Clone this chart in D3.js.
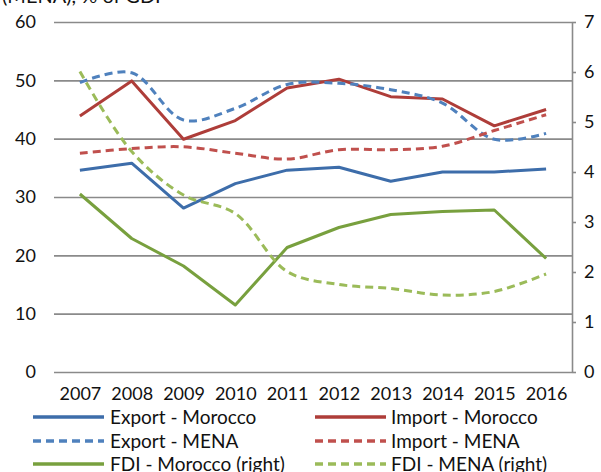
<!DOCTYPE html>
<html>
<head>
<meta charset="utf-8">
<script src="https://cdn.jsdelivr.net/npm/d3@7"></script>
<style>
  html, body { margin: 0; padding: 0; background: #fff; }
  svg { display: block; }
  text { font-family: "Century Gothic", Lato, "DejaVu Sans", sans-serif; fill: #111; }
</style>
</head>
<body>
<svg id="chart" width="601" height="472"></svg>
<script>
const years = ["2007","2008","2009","2010","2011","2012","2013","2014","2015","2016"];
const exportMorocco = [34.6, 35.8, 28.1, 32.3, 34.6, 35.1, 32.7, 34.3, 34.3, 34.8];
const importMorocco = [43.9, 49.9, 39.9, 43.1, 48.7, 50.2, 47.2, 46.8, 42.2, 45.0];
const exportMENA    = [49.6, 51.3, 43.2, 45.2, 49.3, 49.5, 48.4, 46.1, 39.9, 40.9];
const importMENA    = [37.5, 38.3, 38.6, 37.5, 36.5, 38.1, 38.1, 38.7, 41.4, 44.1];
const fdiMorocco    = [3.56, 2.67, 2.12, 1.34, 2.49, 2.89, 3.15, 3.21, 3.24, 2.27];
const fdiMENA       = [6.01, 4.41, 3.54, 3.17, 2.01, 1.75, 1.67, 1.54, 1.61, 1.96];
const leftTicks  = [0, 10, 20, 30, 40, 50, 60];
const rightTicks = [0, 1, 2, 3, 4, 5, 6, 7];
const titleText = "(MENA), % of GDP";

const series = [
  { name: "Export - Morocco",       values: exportMorocco, axis: "left",  color: "#3D6DAA", dash: null,  smooth: false },
  { name: "Import - Morocco",       values: importMorocco, axis: "left",  color: "#AE3D39", dash: null,  smooth: false },
  { name: "Export - MENA",          values: exportMENA,    axis: "left",  color: "#4F81BD", dash: "8,5", smooth: true },
  { name: "Import - MENA",          values: importMENA,    axis: "left",  color: "#C0504D", dash: "8,5", smooth: true },
  { name: "FDI - Morocco (right)",  values: fdiMorocco,    axis: "right", color: "#78A03E", dash: null,  smooth: false },
  { name: "FDI - MENA (right)",     values: fdiMENA,       axis: "right", color: "#9BBB59", dash: "8,5", smooth: true }
];

const svg = d3.select("#chart");
const plot = { left: 54, right: 572, top: 22, bottom: 372 };

const x = d3.scalePoint().domain(years).range([plot.left, plot.right]).padding(0.5);
const yL = d3.scaleLinear().domain([0, 60]).range([plot.bottom, plot.top]);
const yR = d3.scaleLinear().domain([0, 7]).range([plot.bottom, plot.top]);

// title (cut off at the top, as in the source)
svg.append("text").attr("x", 2).attr("y", 2.5)
  .style("font-size", "20px").text(titleText);

// left axis with gridlines
const gL = svg.append("g").attr("transform", `translate(${plot.left},0)`)
  .call(d3.axisLeft(yL).tickValues(leftTicks).tickSize(-(plot.right - plot.left)).tickPadding(18).tickFormat(d3.format("d")));
gL.select(".domain").remove();
gL.selectAll(".tick line").attr("stroke", "#8A8A8A").attr("stroke-width", 1.6);
gL.selectAll(".tick text").style("font-size", "18px").attr("fill", "#111");

// right axis
const gR = svg.append("g").attr("transform", `translate(${plot.right},0)`)
  .call(d3.axisRight(yR).tickValues(rightTicks).tickSize(4).tickSizeOuter(0).tickPadding(8).tickFormat(d3.format("d")));
gR.select(".domain").attr("stroke", "#8A8A8A").attr("stroke-width", 1.6);
gR.selectAll(".tick line").attr("stroke", "#8A8A8A").attr("stroke-width", 1.6);
gR.selectAll(".tick text").style("font-size", "18px").attr("fill", "#111");

// bottom axis labels
const gB = svg.append("g").attr("transform", `translate(0,${plot.bottom})`)
  .call(d3.axisBottom(x).tickSize(0).tickPadding(15));
gB.select(".domain").remove();
gB.selectAll(".tick text").style("font-size", "18px").attr("fill", "#111");

// lines
series.forEach(s => {
  const yS = s.axis === "left" ? yL : yR;
  const line = d3.line()
    .x((d, i) => x(years[i]))
    .y(d => yS(d))
    .curve(s.smooth ? d3.curveCatmullRom.alpha(0.5) : d3.curveLinear);
  svg.append("path")
    .datum(s.values)
    .attr("d", line)
    .attr("fill", "none")
    .attr("stroke", s.color)
    .attr("stroke-width", 3)
    .attr("stroke-linejoin", "round")
    .attr("stroke-dasharray", s.dash);
});

// legend
const legCols = [{ lx: 33, tx: 110 }, { lx: 315, tx: 391 }];
const legRows = [417, 441, 464];
series.forEach((s, i) => {
  const col = legCols[i % 2];
  const row = legRows[Math.floor(i / 2)];
  const g = svg.append("g");
  g.append("line")
    .attr("x1", col.lx).attr("x2", col.lx + 71)
    .attr("y1", row).attr("y2", row)
    .attr("stroke", s.color).attr("stroke-width", 3.5)
    .attr("stroke-dasharray", s.dash);
  g.append("text")
    .attr("x", col.tx).attr("y", row).attr("dy", "0.35em")
    .style("font-size", "19px").text(s.name);
});
</script>
</body>
</html>
